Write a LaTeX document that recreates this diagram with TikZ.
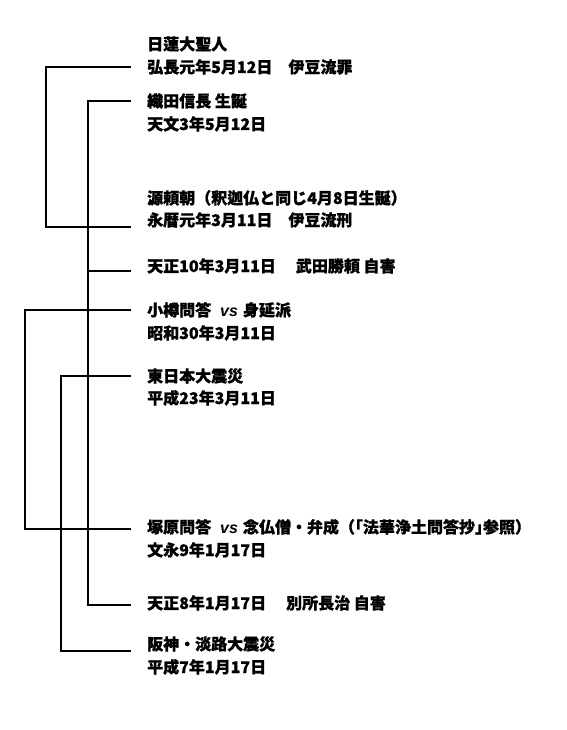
\documentclass[tikz,border=0pt]{standalone}
\usepackage{fontspec}
\newfontfamily\jp{Noto Sans CJK JP}[BoldFeatures={FakeBold=0.8}]
\newfontfamily\jph{Noto Sans CJK JP}[RawFeature=+halt,BoldFeatures={FakeBold=0.8}]
\newfontfamily\lat{Liberation Sans}[BoldFeatures={FakeBold=0.5}]
\tikzset{
  txt/.style={anchor=base west, inner sep=0pt, font=\jp\bfseries\fontsize{16}{16}\selectfont},
  brk/.style={line width=2pt, line join=miter, line cap=butt},
  thinbrk/.style={line width=1.1pt, line join=miter, line cap=butt},
  gap/.style={shorten <=16pt, shorten >=16pt},
}
\newcommand{\vsmark}{\hspace{9pt}{\lat\bfseries\itshape vs}\hspace{5pt}}
\newcommand{\hw}[1]{{\jph\bfseries #1}}
\begin{document}
\begin{tikzpicture}[x=1pt,y=-1pt]
\useasboundingbox[fill=white] (0,0) rectangle (566,730);
% entries
\node[txt] (e1a) at (147,50)  {日蓮大聖人};
\node[txt] (e1b) at (147,73)  {弘長元年5月12日　伊豆流罪};
\node[txt] (e2a) at (147,107) {織田信長 生誕};
\node[txt] (e2b) at (147,130) {天文3年5月12日};
\node[txt] (e3a) at (147,204) {源頼朝（釈迦仏と同じ4月8日生誕）};
\node[txt] (e3b) at (147,226) {永暦元年3月11日　伊豆流刑};
\node[txt] (e4)  at (147,272) {天正10年3月11日\hspace{20pt}武田勝頼 自害};
\node[txt] (e5a) at (147,316) {小樽問答\vsmark 身延派};
\node[txt] (e5b) at (147,339) {昭和30年3月11日};
\node[txt] (e6a) at (147,382) {東日本大震災};
\node[txt] (e6b) at (147,404) {平成23年3月11日};
\node[txt] (e7a) at (147,533) {塚原問答\vsmark 念仏僧・弁成（\hw{「}法華浄土問答抄\hw{」}参照\hw{）}};
\node[txt] (e7b) at (147,556) {文永9年1月17日};
\node[txt] (e8)  at (147,609) {天正8年1月17日\hspace{20pt}別所長治 自害};
\node[txt] (e9a) at (147,650) {阪神・淡路大震災};
\node[txt] (e9b) at (147,673) {平成7年1月17日};
% bracket joints
\coordinate (b1t) at (46,67);
\coordinate (b1b) at (46,227);
\coordinate (b2t) at (88,101);
\coordinate (b2m) at (88,271);
\coordinate (b2b) at (88,605);
\coordinate (b3t) at (25,310);
\coordinate (b3b) at (25,529);
\coordinate (b4t) at (61,376);
\coordinate (b4b) at (61,651);
% brackets
\draw[brk,gap] (e1b.west |- b1t) -- (b1t) -- (b1b) -- (e3b.west |- b1b);
\draw[brk,gap] (e2a.west |- b2t) -- (b2t) -- (b2m) -- (e4.west |- b2m);
\draw[thinbrk,shorten >=16pt] (b2m) -- (b2b) -- (e8.west |- b2b);
\draw[brk,gap] (e5a.west |- b3t) -- (b3t) -- (b3b) -- (e7a.west |- b3b);
\draw[brk,gap] (e6a.west |- b4t) -- (b4t) -- (b4b) -- (e9a.west |- b4b);
\end{tikzpicture}
\end{document}
